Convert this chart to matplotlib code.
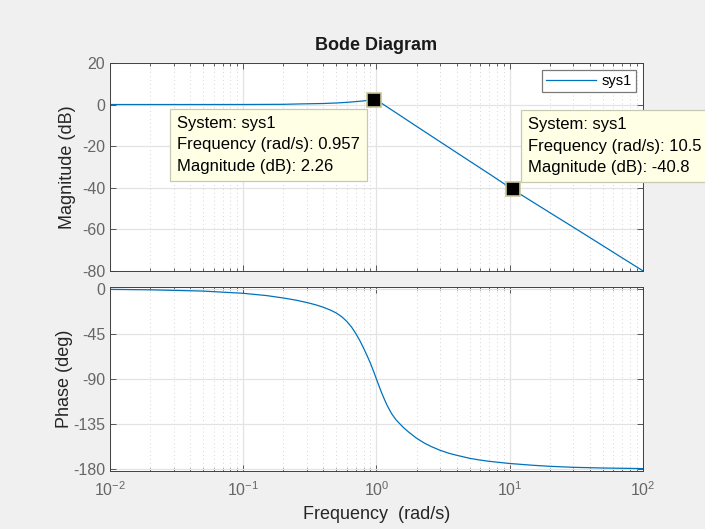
import numpy as np
import matplotlib
matplotlib.use('Agg')
import matplotlib.pyplot as plt
from matplotlib.ticker import LogLocator, NullFormatter


# frequency response of sys1
freq = [0.01, 0.03, 0.1, 0.2, 0.27, 0.3, 0.4, 0.5, 0.6, 0.7, 0.8, 0.9, 0.957,
        1.0, 1.08, 1.5, 2.0, 3.0, 5.0, 7.0, 10.5, 20.0, 30.0, 50.0, 70.0, 100.0]
mag_db = [0.0, 0.0, 0.02, 0.1, 0.3, 0.35, 0.5, 0.75, 1.05, 1.4, 1.75, 2.1, 2.26,
          1.9, 0.8, -5.2, -10.5, -17.9, -27.2, -33.3, -40.8, -52.0, -59.0, -67.9, -73.8, -80.0]

ph_freq = [0.01, 0.02, 0.05, 0.1, 0.15, 0.2, 0.25, 0.3, 0.35, 0.4, 0.45, 0.5, 0.55, 0.6,
           0.65, 0.7, 0.75, 0.8, 0.85, 0.9, 0.95, 1.0, 1.05, 1.1, 1.15, 1.2, 1.3, 1.4,
           1.52, 1.6, 1.75, 2.0, 2.3, 2.6, 3.0, 3.5, 4.0, 5.0, 6.0, 7.0, 8.5, 10.0,
           15.0, 20.0, 30.0, 50.0, 100.0]
phase_deg = [-0.4, -0.8, -2.1, -4.3, -6.6, -9.0, -11.2, -13.5, -15.8, -18.3, -21.0, -24.0,
             -27.8, -32.5, -38.0, -44.5, -51.5, -59.0, -66.5, -74.0, -82.0, -90.0, -97.5,
             -104.5, -110.5, -116.0, -124.5, -130.5, -135.5, -138.5, -143.0, -149.0, -154.0,
             -157.5, -161.0, -164.0, -166.0, -169.0, -170.8, -172.0, -173.2, -174.2, -176.0,
             -177.0, -178.0, -178.7, -179.3]

# data tips
tip_freq = [0.957, 10.5]
tip_mag = [2.26, -40.8]

mag_ticks = [20, 0, -20, -40, -60, -80]
phase_ticks = [0, -45, -90, -135, -180]

line_col = '#0072bd'
tick_col = '#666666'
text_col = '#262626'

plt.rcParams['font.family'] = ['Liberation Sans', 'DejaVu Sans']
plt.rcParams['mathtext.fontset'] = 'custom'
plt.rcParams['mathtext.rm'] = 'Liberation Sans'
plt.rcParams['axes.unicode_minus'] = False

fig = plt.figure(figsize=(7.05, 5.29), dpi=100)
fig.patch.set_facecolor('#f0f0f0')

ax1 = fig.add_axes([0.156, 0.488, 0.756, 0.393])
ax2 = fig.add_axes([0.156, 0.110, 0.756, 0.3475], sharex=ax1)


def style(ax):
    ax.set_xscale('log')
    ax.set_xlim(0.01, 100)
    ax.xaxis.set_major_locator(LogLocator(base=10, numticks=10))
    ax.xaxis.set_minor_locator(LogLocator(base=10, subs=np.arange(2, 10), numticks=20))
    ax.xaxis.set_minor_formatter(NullFormatter())
    ax.tick_params(which='both', direction='in', top=True, right=True,
                   colors='#404040', labelcolor=tick_col, labelsize=11.5)
    ax.tick_params(which='major', length=4, width=0.6)
    ax.tick_params(which='minor', length=2.5, width=0.6)
    ax.tick_params(axis='x', which='major', pad=7)
    for s in ax.spines.values():
        s.set_color('#404040')
        s.set_linewidth(0.7)
    ax.grid(True, which='major', color='#e3e3e3', lw=0.9, ls='-')
    ax.grid(True, which='minor', axis='x', color='#d5d5d5', lw=0.7, ls=(0, (1, 3)))
    ax.set_axisbelow(True)


style(ax1)
style(ax2)

ax1.plot(freq, mag_db, color=line_col, lw=0.9, label='sys1')
ax1.set_ylim(-80, 20)
ax1.set_yticks(mag_ticks)
ax1.tick_params(labelbottom=False)
ax1.set_ylabel('Magnitude (dB)', fontsize=13, color=text_col, labelpad=4)
ax1.set_title('Bode Diagram', fontsize=13, fontweight='bold', color='#1a1a1a', pad=9)

ax2.plot(ph_freq, phase_deg, color=line_col, lw=0.9)
ax2.set_ylim(-181.5, 2)
ax2.set_yticks(phase_ticks)
ax2.set_ylabel('Phase (deg)', fontsize=13, color=text_col, labelpad=0)
ax2.set_xlabel('Frequency  (rad/s)', fontsize=13, color=text_col, labelpad=5)

leg = ax1.legend(loc='upper right', fontsize=10.5, handlelength=3.4, handletextpad=0.4,
                 borderaxespad=0.45, borderpad=0.3, fancybox=False, framealpha=1)
leg.get_frame().set_edgecolor('#7a7a7a')
leg.get_frame().set_linewidth(0.9)

# data tip markers and boxes
ax1.plot(tip_freq, tip_mag, ls='none', marker='s', ms=10, mfc='black', mec='#c8c59a',
         mew=1.2, zorder=5)

tip_box = dict(boxstyle='square,pad=0.4', fc='#ffffe6', ec='#c8c8b4', lw=0.9)
txt1 = 'System: sys1\nFrequency (rad/s): %.3g\nMagnitude (dB): %.3g' % (tip_freq[0], tip_mag[0])
txt2 = 'System: sys1\nFrequency (rad/s): %.3g\nMagnitude (dB): %.3g' % (tip_freq[1], tip_mag[1])
ax1.annotate(txt1, xy=(tip_freq[0], tip_mag[0]), xytext=(-14, -16),
             textcoords='offset pixels', ha='right', va='top', multialignment='left',
             fontsize=12, linespacing=1.55, color='black', bbox=tip_box, zorder=6,
             annotation_clip=False)
ax1.annotate(txt2, xy=(tip_freq[1], tip_mag[1]), xytext=(15, 14),
             textcoords='offset pixels', ha='left', va='bottom', multialignment='left',
             fontsize=12, linespacing=1.55, color='black', bbox=tip_box, zorder=6,
             annotation_clip=False)

fig.savefig('out.png', dpi=100, facecolor=fig.get_facecolor())
